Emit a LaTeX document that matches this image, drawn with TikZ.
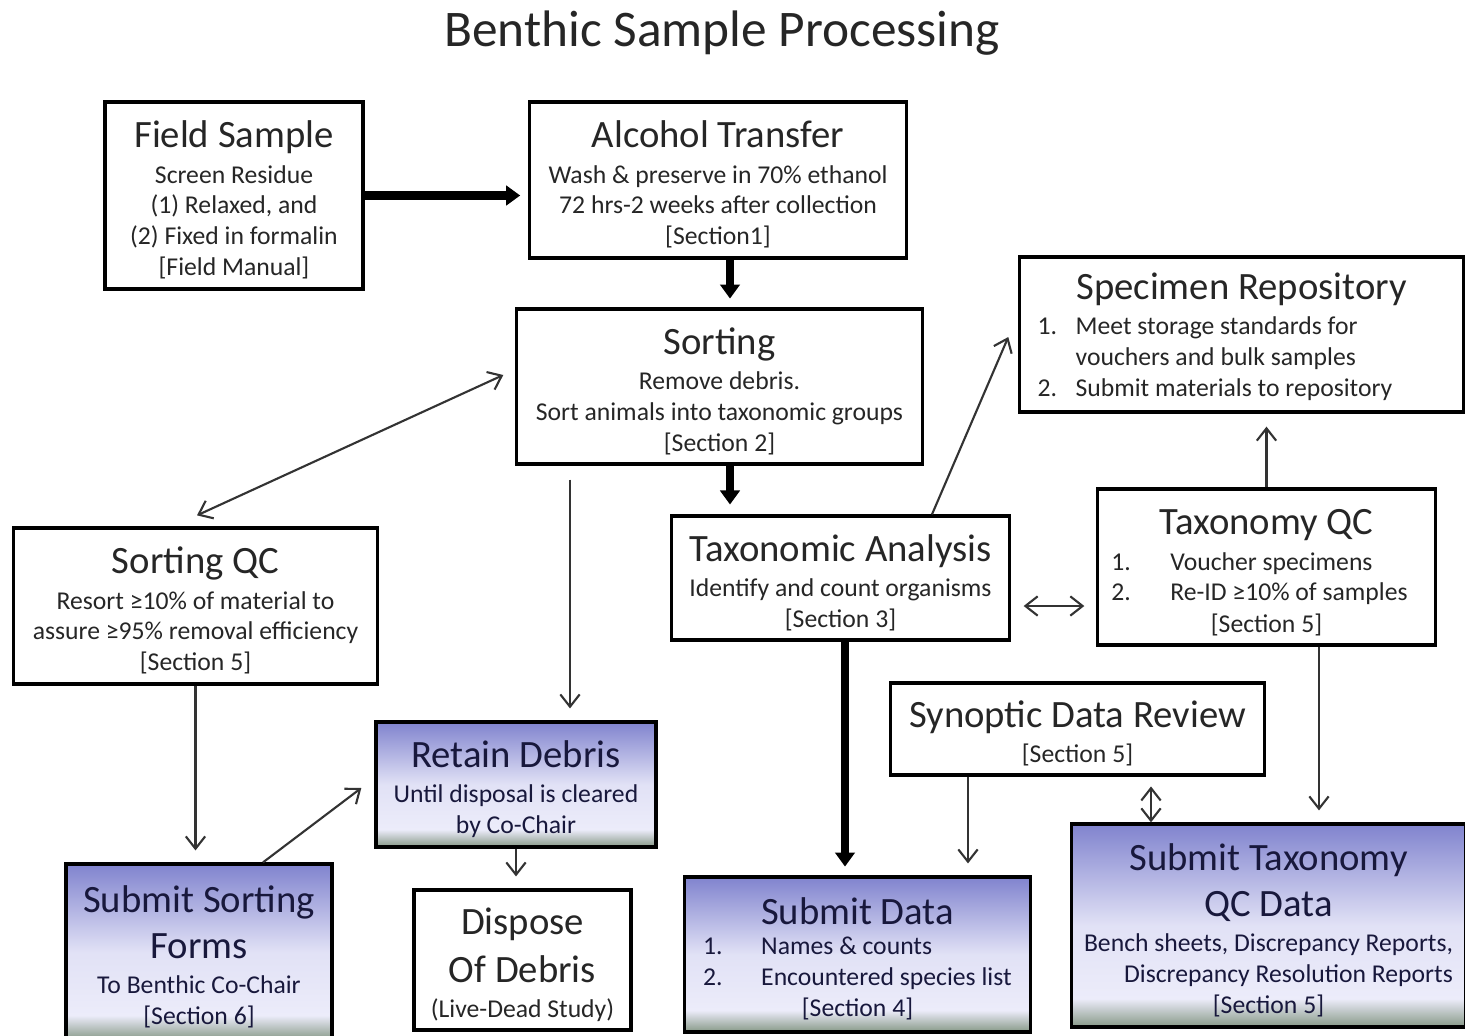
\documentclass[tikz,border=0pt]{standalone}
\usepackage{fontspec}
\setmainfont{Carlito}
\usetikzlibrary{arrows.meta, calc}
\definecolor{gtop}{RGB}{128,131,206}
\definecolor{gmid}{RGB}{236,236,250}
\definecolor{gbot}{RGB}{134,152,134}
\definecolor{navy}{RGB}{24,24,60}
\pgfdeclareverticalshading{boxgrad}{100bp}{color(0bp)=(gbot); color(25bp)=(gbot); color(32bp)=(gmid); color(50bp)=(gmid!90!gtop); color(75bp)=(gtop); color(100bp)=(gtop)}
\newcommand{\ttl}[1]{{\fontsize{11}{13.4}\selectfont #1}}
\newcommand{\ttltop}[1]{{\fontsize{11}{13.4}\selectfont\rule{0pt}{10.3pt}#1}}

\begin{document}
\begin{tikzpicture}[x=0.01cm, y=-0.01cm,
  box/.style={draw, line width=0.9pt, align=center, text=black!85, font=\fontsize{7.3}{8.8}\selectfont, inner sep=0pt},
  shadebox/.style={box, shade, shading=boxgrad, text=navy},
  mainflow/.style={line width=2.3pt, -{Triangle[width=5.5pt,length=4pt]}},
  sideflow/.style={line width=0.6pt, draw=black!80, -{Straight Barb[length=3.5pt,width=5.5pt]}},
  sideboth/.style={sideflow, {Straight Barb[length=3.5pt,width=5.5pt]}-{Straight Barb[length=3.5pt,width=5.5pt]}}]
\fill[white] (0,0) rectangle (1465,1036);
\useasboundingbox (0,0) rectangle (1465,1036);

\node[font=\fontsize{14.6}{17}\selectfont, text=black!85] (title) at (722,33) {Benthic Sample Processing};

\node[box, minimum width=2.58cm, minimum height=1.87cm] (field) at (234,195.5)
  {\ttltop{Field Sample}\\[1.2pt] Screen Residue\\(1) Relaxed, and\\(2) Fixed in formalin\\{[Field Manual]}};
\node[box, minimum width=3.76cm, minimum height=1.56cm] (alc) at (718,180)
  {\ttltop{Alcohol Transfer}\\[1.2pt] Wash \& preserve in 70\% ethanol\\72 hrs-2 weeks after collection\\{[Section1]}};
\node[box, minimum width=4.05cm, minimum height=1.55cm] (sort) at (719.5,386.5)
  {\ttltop{Sorting}\\[1.2pt] Remove debris.\\Sort animals into taxonomic groups\\{[Section 2]}};
\node[box, minimum width=4.43cm, minimum height=1.55cm] (repo) at (1241.5,334.5)
  {\ttltop{Specimen Repository}\\[1.2pt]\begin{tabular}{@{}p{0.38cm}@{}l@{\hspace{0.53cm}}}1. & Meet storage standards for\\ & vouchers and bulk samples\\2. & Submit materials to repository\end{tabular}};
\node[box, minimum width=3.63cm, minimum height=1.56cm] (sqc) at (195.5,606)
  {\ttltop{Sorting QC}\\[1.2pt] Resort ≥10\% of material to\\assure ≥95\% removal efficiency\\{[Section 5]}};
\node[box, minimum width=3.37cm, minimum height=1.24cm] (tax) at (840.5,578)
  {\ttltop{Taxonomic Analysis}\\[1.2pt] Identify and count organisms\\{[Section 3]}};
\node[box, minimum width=3.37cm, minimum height=1.56cm] (tqc) at (1266.5,567)
  {\ttltop{Taxonomy QC}\\[1.2pt]\begin{tabular}{@{}p{0.59cm}@{}l@{\hspace{0.14cm}}}1. & Voucher specimens\\2. & Re-ID ≥10\% of samples\end{tabular}\\{[Section 5]}};
\node[box, minimum width=3.73cm, minimum height=0.92cm] (syn) at (1077.5,729)
  {\ttltop{Synoptic Data Review}\\[1.2pt]{[Section 5]}};
\node[shadebox, minimum width=2.80cm, minimum height=1.25cm] (retain) at (516,784.5)
  {\ttltop{Retain Debris}\\[1.2pt] Until disposal is cleared\\by Co-Chair};
\node[box, minimum width=2.17cm, minimum height=1.40cm] (dispose) at (522.5,960)
  {\ttltop{Dispose}\\[3pt]\ttl{Of Debris}\\[1.2pt](Live-Dead Study)};
\node[shadebox, minimum width=2.66cm, minimum height=1.76cm] (subsort) at (199,952)
  {\ttltop{Submit Sorting}\\[3pt]\ttl{Forms}\\[1.2pt] To Benthic Co-Chair\\{[Section 6]}};
\node[shadebox, minimum width=3.45cm, minimum height=1.55cm] (sdata) at (857.5,954.5)
  {\ttltop{Submit Data}\\[1.2pt]\begin{tabular}{@{}p{0.58cm}@{}l@{}}1. & Names \& counts\\2. & Encountered species list\end{tabular}\\{[Section 4]}};
\node[shadebox, minimum width=3.93cm, minimum height=2.03cm] (stqc) at (1268.5,925.5)
  {\ttltop{Submit Taxonomy}\\[3pt]\ttl{QC Data}\\[1.2pt] Bench sheets, Discrepancy Reports,\\\hspace*{0.4cm}Discrepancy Resolution Reports\\{[Section 5]}};

\draw[mainflow, shorten >=2.3pt] (field.east) -- (field.east -| alc.west);
\draw[mainflow, shorten >=2.5pt] ($(alc.south)+(12,0)$) -- ($(sort.north)+(10.5,0)$);
\draw[mainflow, shorten >=2.8pt] ($(sort.south)+(10.5,0)$) -- ($(tax.north)+(-110.5,0)$);
\draw[mainflow, shorten >=2.5pt] ($(tax.south)+(4.5,0)$) -- ($(sdata.north)+(-12.5,0)$);
\draw[sideboth] ($(sort.west)+(-12,-11.5)$) -- ($(sqc.north)+(1.5,-11)$);
\draw[sideflow, shorten >=3.4pt] ($(sort.south)+(-149.5,14)$) -- ($(retain.north)+(54,0)$);
\draw[sideflow, shorten >=3.4pt] (sqc.south) -- (sqc.south |- subsort.north);
\draw[sideflow] ($(subsort.north)+(64,0)$) -- ($(retain.west)+(-13,3.5)$);
\draw[sideflow, shorten >=3.4pt] (retain.south) -- (retain.south |- dispose.north);
\draw[sideflow] ($(tax.north)+(91.5,0)$) -- ($(repo.west)+(-10,2.5)$);
\draw[sideboth] ($(tax.east)+(13,28)$) -- ($(tqc.west)+(-12,39)$);
\draw[sideflow, shorten >=3.7pt] (tqc.north) -- (tqc.north |- repo.south);
\draw[sideflow, shorten >=3.4pt] ($(syn.south)+(-109.5,0)$) -- ($(sdata.north)+(110.5,0)$);
\draw[sideboth, shorten <=2.8pt] ($(syn.south)+(73.5,0)$) -- ($(stqc.north)+(-117.5,0)$);
\draw[sideflow, shorten >=3.4pt] ($(tqc.south)+(52.5,0)$) -- ($(stqc.north)+(50.5,0)$);
\end{tikzpicture}
\end{document}
